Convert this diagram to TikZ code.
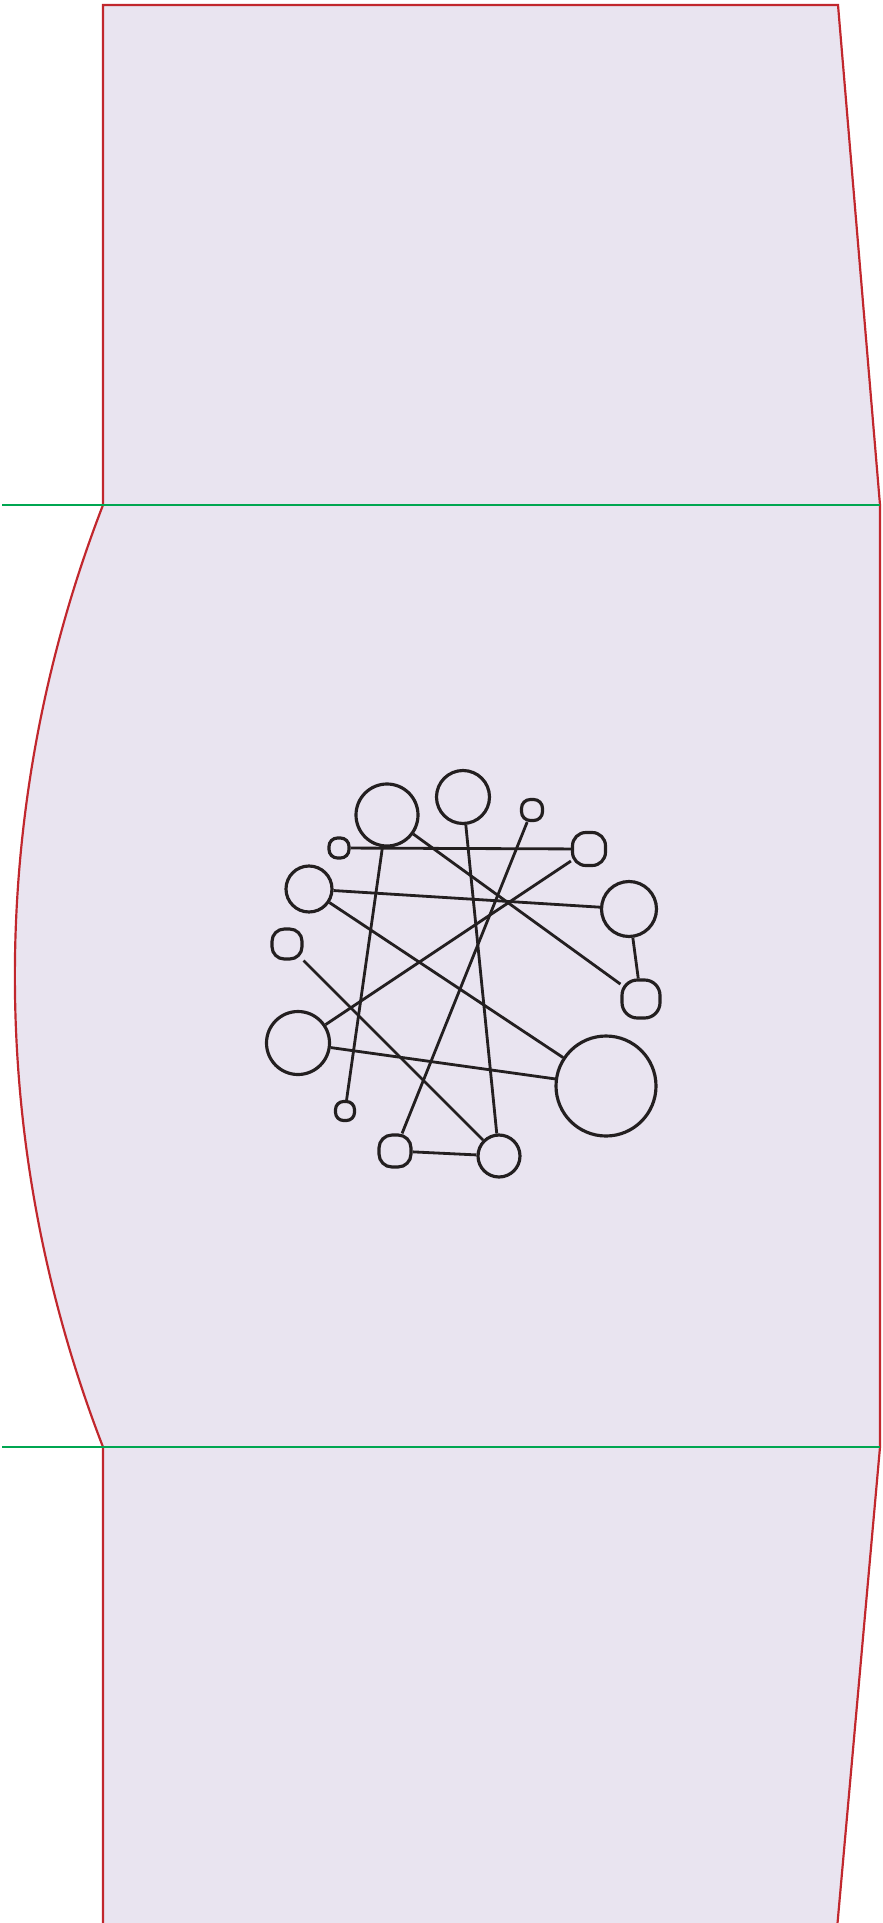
\documentclass[tikz,border=0pt]{standalone}
\definecolor{colFill}{HTML}{E9E4F0}
\definecolor{colRim}{HTML}{C1272D}
\definecolor{colCut}{HTML}{00A651}
\definecolor{colInk}{HTML}{231F20}
\tikzset{
  ring/.style={circle, draw=colInk, fill=colFill, line width=0.9pt,
    inner sep=0pt, minimum size=#1},
  knob/.style 2 args={rectangle, draw=colInk, fill=colFill, line width=0.9pt,
    inner sep=0pt, minimum size=#1, rounded corners=#2},
  wire/.style={draw=colInk, line width=0.8pt},
  cut/.style={draw=colCut, line width=0.6pt}
}

\begin{document}
\begin{tikzpicture}
\useasboundingbox (0,0) rectangle (8.82,-19.23);

% ===================== OUTLINE =====================
\draw[draw=colRim, fill=colFill, line width=0.62pt]
  (1.03,-0.05) -- (8.38,-0.05) -- (8.80,-5.05) -- (8.80,-14.47)
  -- (8.36,-19.40) -- (1.03,-19.40) -- (1.03,-14.47)
  .. controls (-0.145,-11.43) and (-0.145,-8.09) .. (1.03,-5.05) -- cycle;

\draw[cut] (0.02,-5.05) -- (8.80,-5.05);
\draw[cut] (0.02,-14.47) -- (8.80,-14.47);

% ===================== GRAPH =====================
\node[ring=0.62cm] (nA) at (3.87,-8.15) {};
\node[ring=0.53cm] (nB) at (4.63,-7.97) {};
\node[knob={0.20cm}{2.4pt}] (nC) at (3.39,-8.48) {};
\node[ring=0.46cm] (nD) at (3.09,-8.89) {};
\node[knob={0.21cm}{2.5pt}] (nE) at (5.32,-8.10) {};
\node[knob={0.33cm}{3.8pt}] (nF) at (5.89,-8.49) {};
\node[ring=0.55cm] (nG) at (6.29,-9.09) {};
\node[knob={0.30cm}{3.5pt}] (nH) at (2.87,-9.44) {};
\node[ring=0.63cm] (nI) at (2.98,-10.43) {};
\node[knob={0.19cm}{2.3pt}] (nJ) at (3.45,-11.11) {};
\node[knob={0.38cm}{4.4pt}] (nK) at (6.41,-9.99) {};
\node[ring=1.00cm] (nL) at (6.06,-10.86) {};
\node[knob={0.32cm}{3.7pt}] (nM) at (3.95,-11.51) {};
\node[ring=0.42cm] (nN) at (4.99,-11.56) {};

\draw[wire] (nA) -- (nJ);
\draw[wire] (nA) -- (nK);
\draw[wire] (nB) -- (nN);
\draw[wire] (nC) -- (nF);
\draw[wire] (nD) -- (nG);
\draw[wire] (nD) -- (nL);
\draw[wire] (nE) -- (nM);
\draw[wire] (nF) -- (nI);
\draw[wire] (nG) -- (nK);
\draw[wire] (nH) -- (nN);
\draw[wire] (nI) -- (nL);
\draw[wire] (nM) -- (nN);
\end{tikzpicture}
\end{document}
